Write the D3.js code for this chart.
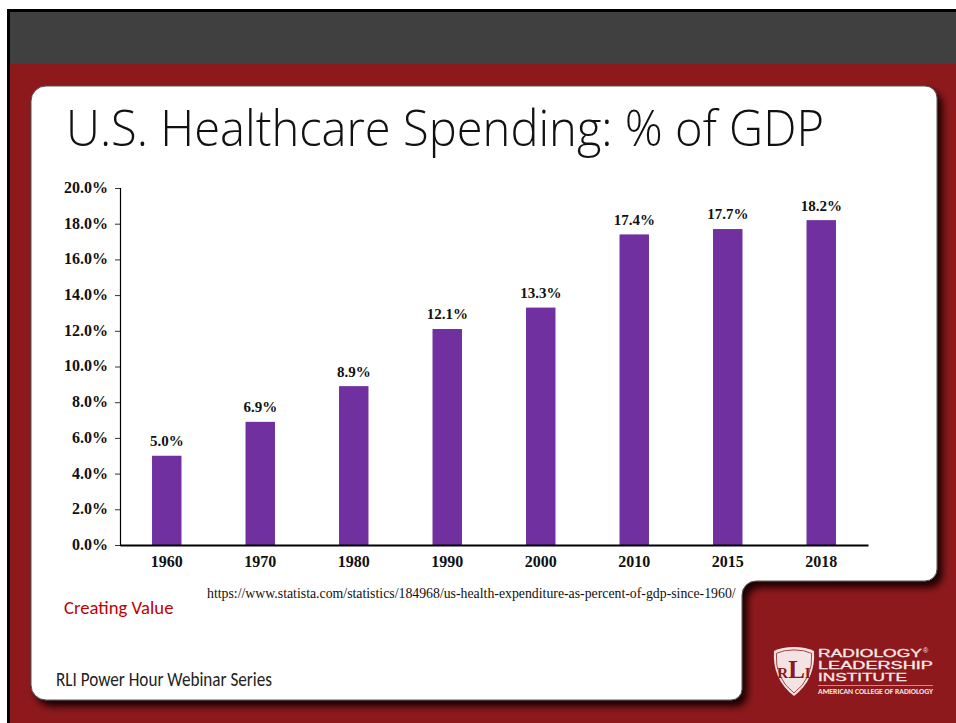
<!DOCTYPE html>
<html>
<head>
<meta charset="utf-8">
<script src="https://cdn.jsdelivr.net/npm/d3@7/dist/d3.min.js"></script>
<style>
  html, body { margin: 0; padding: 0; background: #fff; }
  svg { display: block; }
</style>
</head>
<body>
<svg id="slide" width="956" height="723"></svg>
<script>
const years = ["1960", "1970", "1980", "1990", "2000", "2010", "2015", "2018"];
const sharePct = [5.0, 6.9, 8.9, 12.1, 13.3, 17.4, 17.7, 18.2];
const tickValues = [0, 2, 4, 6, 8, 10, 12, 14, 16, 18, 20];
const titleText = "U.S. Healthcare Spending: % of GDP";
const sourceText = "https://www.statista.com/statistics/184968/us-health-expenditure-as-percent-of-gdp-since-1960/";
const topicText = "Creating Value";
const seriesText = "RLI Power Hour Webinar Series";
const brandLines = ["RADIOLOGY", "LEADERSHIP", "INSTITUTE"];
const brandWidths = [104, 115, 89];
const brandSub = "AMERICAN COLLEGE OF RADIOLOGY";

const svg = d3.select("#slide");
const SERIF = "'Liberation Serif', serif";
const HUMANIST = "Carlito, Lato, 'Open Sans', sans-serif";
const WINE = "#8d191c";

// Drop shadow under the white content card
const defs = svg.append("defs");
const shadow = defs.append("filter").attr("id", "cardShadow")
  .attr("x", "-5%").attr("y", "-5%").attr("width", "112%").attr("height", "112%");
shadow.append("feDropShadow")
  .attr("dx", 5).attr("dy", 6).attr("stdDeviation", 3.6)
  .attr("flood-color", "#1c0000").attr("flood-opacity", 1);

// Slide background: black frame, grey header band, dark red body
svg.append("rect").attr("x", 7).attr("y", 9).attr("width", 949).attr("height", 714).attr("fill", "#000");
svg.append("rect").attr("x", 10).attr("y", 12).attr("width", 946).attr("height", 52).attr("fill", "#404040");
svg.append("rect").attr("x", 10).attr("y", 64).attr("width", 946).attr("height", 659).attr("fill", WINE);

// White card with a notch cut out of its lower right corner
const card = d3.path();
card.moveTo(46, 86);
card.lineTo(925, 86);
card.arcTo(937, 86, 937, 98, 12);
card.lineTo(937, 569);
card.arcTo(937, 581, 925, 581, 12);
card.lineTo(756, 581);
card.arcTo(742, 581, 742, 595, 14);
card.lineTo(742, 689);
card.arcTo(742, 700, 731, 700, 11);
card.lineTo(46, 700);
card.arcTo(31, 700, 31, 685, 15);
card.lineTo(31, 101);
card.arcTo(31, 86, 46, 86, 15);
card.closePath();
svg.append("path").attr("d", card.toString())
  .attr("fill", "#fff").attr("stroke", "#555").attr("stroke-width", 1)
  .attr("filter", "url(#cardShadow)");

svg.append("text").attr("x", 66).attr("y", 146)
  .attr("font-family", "'Open Sans', sans-serif").attr("font-weight", 300).attr("font-size", 49)
  .attr("textLength", 758).attr("lengthAdjust", "spacingAndGlyphs")
  .attr("fill", "#111").text(titleText);

// Bar chart
const plot = { left: 120, right: 868, top: 188, bottom: 545 };
const x = d3.scaleBand().domain(years).range([plot.left, plot.right]).paddingInner(0.685).paddingOuter(0.3425);
const y = d3.scaleLinear().domain([0, 20]).range([plot.bottom, plot.top]);

const chart = svg.append("g");

chart.selectAll("rect.bar").data(years).join("rect").attr("class", "bar")
  .attr("x", d => x(d))
  .attr("y", (d, i) => y(sharePct[i]))
  .attr("width", x.bandwidth())
  .attr("height", (d, i) => y(0) - y(sharePct[i]))
  .attr("fill", "#7030a0");

const yAxis = d3.axisLeft(y).tickValues(tickValues).tickSize(5).tickPadding(7)
  .tickFormat(d => d3.format(".1f")(d) + "%");
const yG = chart.append("g").attr("transform", `translate(${plot.left},0)`).call(yAxis);
yG.select(".domain").attr("stroke", "#000").attr("stroke-width", 1.2);
yG.selectAll(".tick line").attr("stroke", "#333");
yG.selectAll("text").attr("font-family", SERIF).attr("font-weight", 700).attr("font-size", 16)
  .attr("fill", "#111").attr("y", -0.7);

const xAxis = d3.axisBottom(x).tickSize(0).tickPadding(11);
const xG = chart.append("g").attr("transform", `translate(0,${plot.bottom})`).call(xAxis);
xG.select(".domain").attr("stroke", "#000").attr("stroke-width", 2);
xG.selectAll("text").attr("font-family", SERIF).attr("font-weight", 700).attr("font-size", 16).attr("fill", "#111");

chart.selectAll("text.value").data(years).join("text").attr("class", "value")
  .attr("x", d => x(d) + x.bandwidth() / 2)
  .attr("y", (d, i) => y(sharePct[i]) - 9.6)
  .attr("text-anchor", "middle")
  .attr("font-family", SERIF).attr("font-weight", 700).attr("font-size", 15).attr("fill", "#111")
  .text((d, i) => d3.format(".1f")(sharePct[i]) + "%");

// Footer notes
svg.append("text").attr("x", 207).attr("y", 598)
  .attr("font-family", SERIF).attr("font-size", 13.8).attr("fill", "#111").text(sourceText);
svg.append("text").attr("x", 64).attr("y", 614)
  .attr("font-family", HUMANIST).attr("font-size", 18.7).attr("fill", "#c00000").text(topicText);
svg.append("text").attr("x", 56).attr("y", 686)
  .attr("font-family", HUMANIST).attr("font-size", 19.5)
  .attr("textLength", 216).attr("lengthAdjust", "spacingAndGlyphs")
  .attr("fill", "#222").text(seriesText);

// Institute mark: crest plus wordmark
const crest = svg.append("g").attr("transform", "translate(774,647)");
const shield = d3.path();
shield.moveTo(20, 0);
shield.quadraticCurveTo(32, 0, 40, 4);
shield.quadraticCurveTo(42, 32, 20, 49);
shield.quadraticCurveTo(-2, 32, 0, 4);
shield.quadraticCurveTo(8, 0, 20, 0);
shield.closePath();
crest.append("path").attr("d", shield.toString()).attr("fill", "#f3e3e3");
crest.append("path").attr("d", shield.toString()).attr("fill", "none")
  .attr("stroke", WINE).attr("stroke-width", 0.9)
  .attr("transform", "translate(20,24) scale(0.88) translate(-20,-24)");
// The monogram is one text run with a taller centre letter
const monogram = crest.append("text").attr("x", 20).attr("y", 31).attr("text-anchor", "middle")
  .attr("font-family", SERIF).attr("font-weight", 700).attr("fill", WINE);
monogram.append("tspan").attr("font-size", 15).text("R");
monogram.append("tspan").attr("font-size", 25).text("L");
monogram.append("tspan").attr("font-size", 15).text("I");

const brand = svg.append("g").attr("fill", "#f6e8e8");
brand.selectAll("text.line").data(brandLines).join("text").attr("class", "line")
  .attr("x", 818).attr("y", (d, i) => 657 + i * 12)
  .attr("font-family", "'Liberation Sans', sans-serif").attr("font-size", 10.4)
  .attr("stroke", "#f6e8e8").attr("stroke-width", 0.3)
  .attr("textLength", (d, i) => brandWidths[i]).attr("lengthAdjust", "spacingAndGlyphs")
  .text(d => d);
brand.append("text").attr("x", 923).attr("y", 653).attr("font-family", "'Liberation Sans', sans-serif")
  .attr("font-size", 7).text("®");
svg.append("line").attr("x1", 818).attr("x2", 933).attr("y1", 685.5).attr("y2", 685.5)
  .attr("stroke", "#c98a8a").attr("stroke-width", 1.2);
brand.append("text").attr("x", 818).attr("y", 694).attr("font-family", HUMANIST).attr("font-weight", 700)
  .attr("font-size", 7).attr("textLength", 115).attr("lengthAdjust", "spacingAndGlyphs").text(brandSub);
</script>
</body>
</html>
